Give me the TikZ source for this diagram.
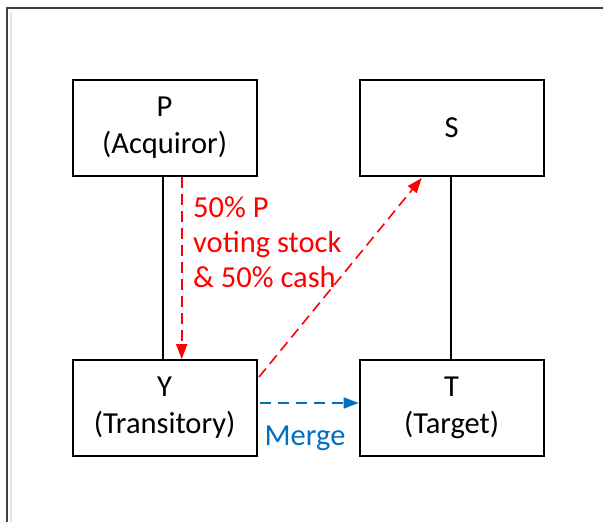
\documentclass[tikz,border=0pt]{standalone}
\usepackage{fontspec}
\setmainfont{Carlito}
\usetikzlibrary{arrows.meta}
\definecolor{myred}{HTML}{FF0000}
\definecolor{myblue}{HTML}{0070C0}
\begin{document}
\begin{tikzpicture}[x=1pt,y=-1pt,
  entity/.style={draw=black,line width=1.8pt,minimum width=184pt,minimum height=96pt,inner sep=0pt,align=center,font=\fontsize{30.5}{37}\selectfont},
  link/.style={draw=black,line width=1.8pt},
  redarrow/.style={draw=myred,line width=1.6pt,dash pattern=on 11pt off 6pt,-{Triangle[length=15pt,width=11pt]}},
  bluearrow/.style={draw=myblue,line width=1.6pt,dash pattern=on 11pt off 7pt,-{Triangle[length=15pt,width=11pt]}}]
\useasboundingbox (0,0) rectangle (603,522);
\draw[line width=2pt,draw=black!75] (6,8) -- (603,8);
\draw[line width=2pt,draw=black!75] (7,8) -- (7,522);
\draw[line width=2pt,draw=black!10] (11,12) -- (11,522);
\node[entity] (P) at (164.6,128) {P\\(Acquiror)};
\node[entity] (S) at (451.6,128) {S};
\node[entity] (Y) at (164.6,408) {Y\\(Transitory)};
\node[entity] (T) at (451.6,408) {T\\(Target)};
\draw[link] (P.south -| 163,0) -- (Y.north -| 163,0);
\draw[link] (S.south -| 451,0) -- (T.north -| 451,0);
\draw[redarrow] (P.south -| 181.7,0) -- (Y.north -| 181.7,0);
\coordinate (ys) at (259,377);
\draw[redarrow] (ys) -- (421.7,178);
\coordinate (ym) at (260,403);
\draw[bluearrow] (ym) -- (T.west |- ym);
\node[anchor=base west,align=left,text=myred,font=\fontsize{30.5}{35}\selectfont,inner sep=0pt] (lbl) at (193,287) {50\% P\\voting stock\\\& 50\% cash};
\node[text=myblue,font=\fontsize{30.5}{36}\selectfont,inner sep=0pt] (mg) at (305,438) {Merge};
\end{tikzpicture}
\end{document}
